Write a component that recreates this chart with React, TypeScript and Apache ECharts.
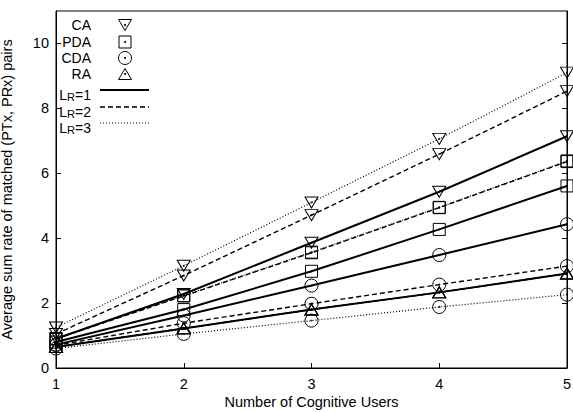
import React, { useEffect, useRef } from "react";
import * as echarts from "echarts";

const users = [1, 2, 3, 4, 5];
const yTicks = [0, 2, 4, 6, 8, 10];

const caLR1 = [0.9, 2.28, 3.86, 5.43, 7.14];
const caLR2 = [1.05, 2.85, 4.71, 6.59, 8.53];
const caLR3 = [1.25, 3.15, 5.1, 7.06, 9.1];
const pdaLR1 = [0.8, 1.8, 2.98, 4.27, 5.61];
const pdaLR2 = [0.9, 2.22, 3.55, 4.94, 6.36];
const pdaLR3 = [0.9, 2.23, 3.57, 4.95, 6.38];
const cdaLR1 = [0.72, 1.62, 2.54, 3.48, 4.43];
const cdaLR2 = [0.7, 1.38, 1.98, 2.57, 3.14];
const cdaLR3 = [0.6, 1.05, 1.46, 1.88, 2.26];
const raLR1 = [0.65, 1.22, 1.8, 2.33, 2.91];
const raLR2 = [0.65, 1.22, 1.8, 2.33, 2.91];
const raLR3 = [0.65, 1.22, 1.8, 2.33, 2.91];

const algoNames = ["CA", "PDA", "CDA", "RA"];
const lrNames = ["1", "2", "3"];

const FONT = "Liberation Sans, Arial, Helvetica, sans-serif";
const AX_FS = 14.5;
const LG_FS = 14;

const symbols: Record<string, any> = {
  CA: { symbol: "triangle", symbolSize: [13, 11], symbolRotate: 180 },
  PDA: { symbol: "rect", symbolSize: [12, 12], symbolRotate: 0 },
  CDA: { symbol: "circle", symbolSize: 13, symbolRotate: 0 },
  RA: { symbol: "triangle", symbolSize: [13, 11], symbolRotate: 0 },
};

const lineStyles = [
  { type: "solid", width: 2 },
  { type: [5, 3], width: 1.4 },
  { type: [1, 2], width: 1.2 },
];

export default function App() {
  const ref = useRef<HTMLDivElement>(null);
  useEffect(() => {
    if (!ref.current) return;
    const chart = echarts.init(ref.current, null, { renderer: "svg" });
    const dataSets: Record<string, number[][]> = {
      CA: [caLR1, caLR2, caLR3],
      PDA: [pdaLR1, pdaLR2, pdaLR3],
      CDA: [cdaLR1, cdaLR2, cdaLR3],
      RA: [raLR1, raLR2, raLR3],
    };
    const series: any[] = [];
    algoNames.forEach((a) => {
      dataSets[a].forEach((vals, i) => {
        const data = users.map((u, k) => [u, vals[k]]);
        series.push({
          type: "line",
          name: `${a} L_R=${lrNames[i]}`,
          data,
          ...symbols[a],
          showAllSymbol: true,
          lineStyle: { color: "#000", ...lineStyles[i] },
          itemStyle: { color: "rgba(0,0,0,0)", borderColor: "#000", borderWidth: 1 },
          silent: true,
          z: 3,
        });
        series.push({
          type: "scatter",
          data,
          symbol: "circle",
          symbolSize: 2,
          itemStyle: { color: "#000" },
          silent: true,
          z: 4,
        });
      });
    });

    // legend (drawn with graphic)
    const legendRows = [25, 42, 58, 74, 90, 107, 123];
    const textRight = 91;
    const markerX = 125;
    const graphics: any[] = [];
    algoNames.forEach((a, i) => {
      const y = legendRows[i];
      graphics.push({
        type: "text",
        x: textRight,
        y,
        style: { text: a, font: `${LG_FS}px ${FONT}`, fill: "#000", align: "right", verticalAlign: "middle" },
      });
      const st = { fill: "none", stroke: "#000", lineWidth: 1 };
      if (a === "CA") {
        graphics.push({ type: "polygon", shape: { points: [[markerX - 6.5, y - 5.5], [markerX + 6.5, y - 5.5], [markerX, y + 5.5]] }, style: st });
      } else if (a === "RA") {
        graphics.push({ type: "polygon", shape: { points: [[markerX - 6.5, y + 5.5], [markerX + 6.5, y + 5.5], [markerX, y - 5.5]] }, style: st });
      } else if (a === "PDA") {
        graphics.push({ type: "rect", shape: { x: markerX - 6, y: y - 6, width: 12, height: 12 }, style: st });
      } else {
        graphics.push({ type: "circle", shape: { cx: markerX, cy: y, r: 6.5 }, style: st });
      }
      graphics.push({ type: "circle", shape: { cx: markerX, cy: y, r: 1 }, style: { fill: "#000" } });
    });
    lrNames.forEach((l, i) => {
      const y = legendRows[4 + i];
      graphics.push({
        type: "text",
        x: textRight,
        y: y + 3,
        style: {
          text: `{a|L}{s|R}{a|=${l}}`,
          align: "right",
          verticalAlign: "middle",
          rich: {
            a: { font: `${LG_FS}px ${FONT}`, fill: "#000", verticalAlign: "bottom" },
            s: { font: `11px ${FONT}`, fill: "#000", padding: [7, 0, 0, 0], verticalAlign: "bottom" },
          },
        },
      });
      graphics.push({
        type: "line",
        shape: { x1: 100, y1: y, x2: 149, y2: y },
        style: { stroke: "#000", lineWidth: lineStyles[i].width, lineDash: lineStyles[i].type === "solid" ? null : lineStyles[i].type },
      });
    });

    chart.setOption({
      animation: false,
      grid: {
        left: 56,
        right: 6,
        top: 11,
        bottom: 44,
        show: true,
        borderColor: "#000",
        borderWidth: 1,
        outerBoundsMode: "none",
        containLabel: false,
      },
      xAxis: {
        type: "value",
        min: 1,
        max: 5,
        interval: 1,
        name: "Number of Cognitive Users",
        nameLocation: "middle",
        nameGap: 26,
        nameMoveOverlap: false,
        nameTextStyle: { color: "#000", fontFamily: FONT, fontSize: AX_FS },
        axisLine: { lineStyle: { color: "#000" } },
        axisTick: { inside: true, length: 5, lineStyle: { color: "#000" } },
        axisLabel: { color: "#000", fontFamily: FONT, fontSize: AX_FS, margin: 8 },
        splitLine: { show: false },
      },
      yAxis: [
        {
          type: "value",
          min: 0,
          max: 11,
          interval: 2,
          name: "Average sum rate of matched (PTx, PRx) pairs",
          nameLocation: "middle",
          nameGap: 42,
          nameMoveOverlap: false,
          nameTextStyle: { color: "#000", fontFamily: FONT, fontSize: AX_FS },
          axisLine: { show: true, lineStyle: { color: "#000" } },
          axisTick: { inside: true, length: 5, lineStyle: { color: "#000" }, customValues: yTicks },
          axisLabel: { color: "#000", fontFamily: FONT, fontSize: AX_FS, margin: 7, customValues: yTicks },
          splitLine: { show: false },
        },
        {
          type: "value",
          position: "right",
          min: 0,
          max: 11,
          interval: 2,
          axisLine: { show: true, lineStyle: { color: "#000" } },
          axisTick: { inside: true, length: 5, lineStyle: { color: "#000" }, customValues: yTicks },
          axisLabel: { show: false },
          splitLine: { show: false },
        },
      ],
      graphic: graphics,
      series,
    });
    return () => chart.dispose();
  }, []);
  return <div ref={ref} style={{ width: 573, height: 412, position: "absolute", left: 0, top: 0 }} />;
}
